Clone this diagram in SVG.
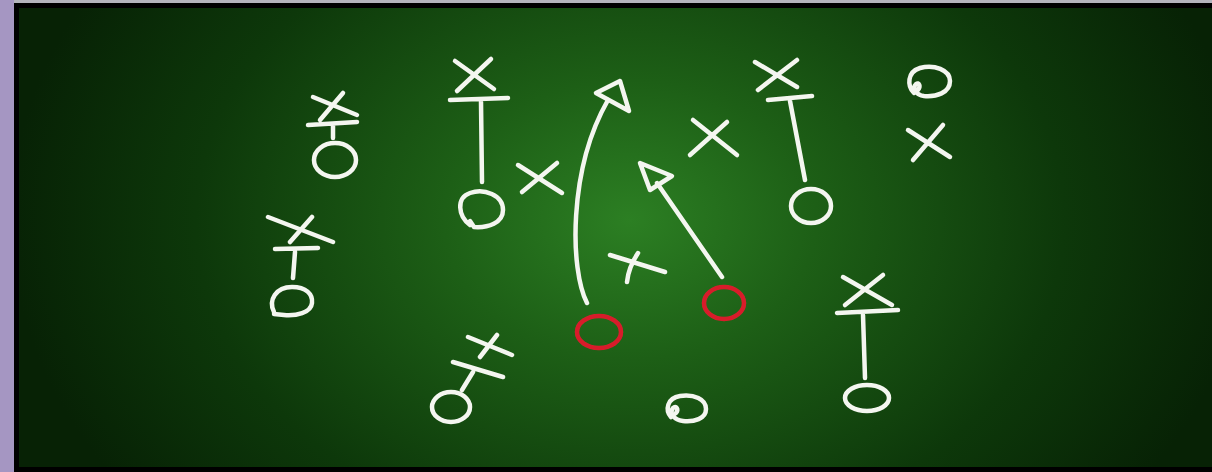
<svg xmlns="http://www.w3.org/2000/svg" width="1212" height="472" viewBox="0 0 1212 472">
<defs>
<radialGradient id="board" cx="630" cy="220" r="620" gradientUnits="userSpaceOnUse" gradientTransform="translate(630 220) scale(1 0.75) translate(-630 -220)">
<stop offset="0" stop-color="#2c7f23"/>
<stop offset="0.3" stop-color="#1d5f16"/>
<stop offset="0.7" stop-color="#0d380a"/>
<stop offset="1" stop-color="#072205"/>
</radialGradient>
<filter id="soft" x="-5%" y="-5%" width="110%" height="110%"><feGaussianBlur stdDeviation="0.6"/></filter>
</defs>
<style>
.c{fill:none;stroke:#f4f6f0;stroke-width:4.5;stroke-linecap:round;stroke-linejoin:round}
.r{fill:none;stroke:#d81f2c;stroke-width:4.5;stroke-linecap:round}
</style>
<rect x="0" y="0" width="1212" height="472" fill="#000"/>
<rect x="0" y="0" width="1212" height="3" fill="#b4b4bc"/>
<rect x="0" y="0" width="14" height="472" fill="#a596c2"/>
<rect x="19" y="8" width="1193" height="459" fill="url(#board)"/>
<g filter="url(#soft)">
<g id="p1" class="c">
<path d="M313,97 L357,115 M343,93 L320,120 M308,125 L357,122 M333,124 L333,138"/>
<ellipse cx="335" cy="160" rx="21" ry="17"/>
</g>
<g id="p2" class="c">
<path d="M455,61 L494,89 M491,59 L457,91 M450,100 L508,98 M481,102 L482,182"/>
<path d="M470,225 C458,216 456,198 470,193 C484,188 503,195 503,210 C503,223 488,228 474,227 L470,221"/>
</g>
<g id="p3" class="c"><path d="M522,192 L557,163 M518,165 L562,193"/></g>
<g id="p4" class="c"><path d="M693,120 L737,155 M727,122 L690,155"/></g>
<g id="p5" class="c"><path d="M610,255 L665,272 M638,253 C632,262 628,272 627,282"/></g>
<g id="p6" class="c">
<path d="M755,62 L797,87 M797,60 L758,90 M768,100 L812,96 M790,101 L805,180"/>
<ellipse cx="811" cy="206" rx="20" ry="17"/>
</g>
<g id="p7" class="c">
<path d="M914,93 C907,86 907,72 920,68 C934,64 950,70 950,81 C950,93 936,97 924,96 C916,95 912,88 916,84 C919,82 921,86 918,90"/>
</g>
<g id="p8" class="c"><path d="M943,125 L913,160 M908,130 L950,157"/></g>
<g id="p9" class="c">
<path d="M268,217 L333,242 M312,217 L290,242 M275,249 L318,248 M295,252 L293,278"/>
<path d="M274,312 C268,300 276,287 292,287 C306,287 313,294 312,303 C311,313 296,316 284,315 L274,314"/>
</g>
<g id="p10" class="c">
<path d="M468,337 L512,355 M497,335 L480,357 M453,362 L503,377 M473,372 L462,390"/>
<ellipse cx="451" cy="407" rx="19" ry="15"/>
</g>
<g id="p11" class="c">
<path d="M671,417 C665,410 667,398 680,396 C694,394 706,399 706,409 C706,419 694,422 683,421 C674,420 669,413 673,408 C676,405 679,409 676,413"/>
</g>
<g id="p12" class="c">
<path d="M843,277 L892,305 M883,275 L845,305 M837,313 L898,310 M863,315 L865,378"/>
<ellipse cx="867" cy="398" rx="22" ry="13"/>
</g>
<g id="r1" class="r"><ellipse cx="599" cy="332" rx="22" ry="16"/></g>
<g id="r2" class="r"><ellipse cx="724" cy="303" rx="20" ry="16"/></g>
<g id="connectors" class="c">
<path d="M587,303 C570,270 568,170 608,100"/>
<path d="M620,81 L596,93 L629,111 Z"/>
<path d="M722,277 L657,183"/>
<path d="M640,163 L672,176 L650,190 Z"/>
</g>
</g>
</svg>
